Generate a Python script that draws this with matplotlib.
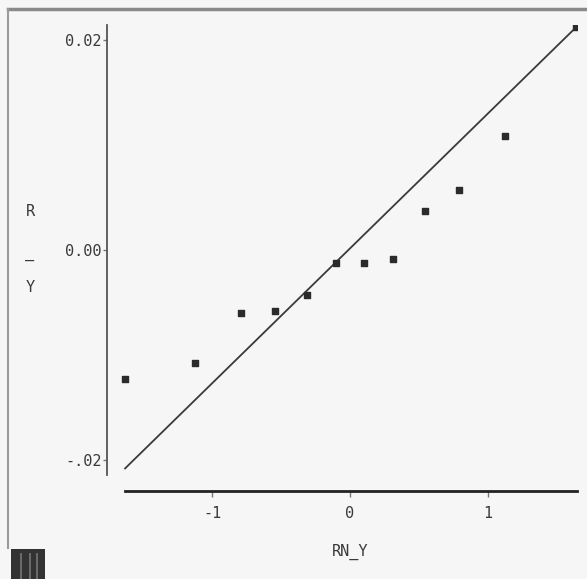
import matplotlib.pyplot as plt
from matplotlib.patches import Rectangle
from matplotlib.lines import Line2D

# normal scores (RN_Y) and residuals (R_Y)
rn_y = [-1.63, -1.12, -0.79, -0.54, -0.31, -0.10, 0.10, 0.31, 0.54, 0.79, 1.12, 1.64]
r_y = [-0.0123, -0.0108, -0.0060, -0.0058, -0.0043, -0.0012,
       -0.0012, -0.0009, 0.0037, 0.0057, 0.0109, 0.0212]

# reference line end points
line_x = [-1.63, 1.645]
line_y = [-0.0208, 0.0213]

xticks = [-1, 0, 1]
xtick_labels = ['-1', '0', '1']
yticks = [-0.02, 0.0, 0.02]
ytick_labels = ['-.02', '0.00', '0.02']

bg = '#f6f6f6'
ink = '#3a3a3a'

fig = plt.figure(figsize=(5.87, 5.79), dpi=100)
fig.patch.set_facecolor(bg)

W, H = 587, 579
ax = fig.add_axes([107 / W, 1 - 491 / H, (577 - 107) / W, (491 - 25) / H])
ax.set_facecolor(bg)

ax.plot(line_x, line_y, color=ink, lw=1.3)
ax.scatter(rn_y, r_y, marker='s', s=16, color='#2b2b2b', zorder=3)

ax.set_xlim(-1.761, 1.645)
ax.set_ylim(-0.02295, 0.02143)

for s in ['top', 'right']:
    ax.spines[s].set_visible(False)
ax.spines['left'].set_bounds(-0.0214, 0.0214)
ax.spines['left'].set_color('#555555')
ax.spines['left'].set_linewidth(1.3)
ax.spines['bottom'].set_bounds(-1.63, 1.645)
ax.spines['bottom'].set_color('#222222')
ax.spines['bottom'].set_linewidth(2.0)

mono = 'DejaVu Sans Mono'
fs = 11
ax.set_xticks(xticks)
ax.set_xticklabels(xtick_labels, fontfamily=mono, fontsize=fs, color=ink)
ax.set_yticks(yticks)
ax.set_yticklabels(ytick_labels, fontfamily=mono, fontsize=fs, color=ink)
ax.tick_params(axis='x', length=4, width=1, color='#777777', pad=7)
ax.tick_params(axis='y', length=3, width=1, color='#777777', pad=1)

fig.text(350 / W, 1 - 552 / H, 'RN_Y', fontfamily=mono, fontsize=fs,
         color=ink, ha='center', va='center')
fig.text(30 / W, 1 - 212 / H, 'R', fontfamily=mono, fontsize=fs,
         color=ink, ha='center', va='center')
fig.text(30 / W, 1 - 254 / H, '_', fontfamily=mono, fontsize=fs,
         color=ink, ha='center', va='center')
fig.text(30 / W, 1 - 288 / H, 'Y', fontfamily=mono, fontsize=fs,
         color=ink, ha='center', va='center')

# outer frame (top and left edges only)
fig.add_artist(Line2D([8 / W, 1], [1 - 9 / H, 1 - 9 / H], color='#8a8a8a', lw=2.5,
                      transform=fig.transFigure))
fig.add_artist(Line2D([8 / W, 8 / W], [1 - 9 / H, 1 - 548 / H], color='#9a9a9a', lw=1.5,
                      transform=fig.transFigure))

# scanner mark in the bottom-left corner
fig.add_artist(Rectangle((11 / W, 0), 34 / W, 30 / H, transform=fig.transFigure,
                         facecolor='#333333', edgecolor='none'))
for sx in [20, 29, 36]:
    fig.add_artist(Rectangle((sx / W, 0), 2 / W, 26 / H, transform=fig.transFigure,
                             facecolor='#6a6a6a', edgecolor='none'))

fig.savefig('out.png', dpi=100, facecolor=bg)
